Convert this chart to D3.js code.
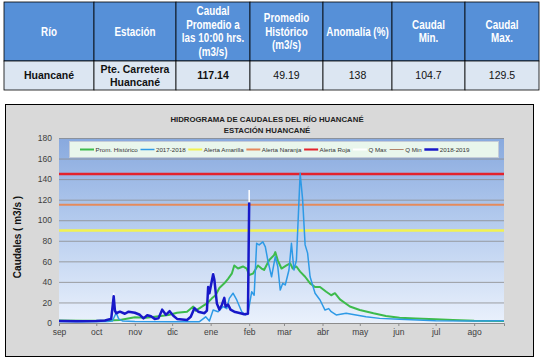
<!DOCTYPE html>
<html>
<head>
<meta charset="utf-8">
<script src="https://cdn.jsdelivr.net/npm/d3@7"></script>
<style>
  body { margin: 0; background: #fff; }
  svg { display: block; }
</style>
</head>
<body>
<script>
// table
var headers = [["Río"], ["Estación"], ["Caudal", "Promedio a", "las 10:00 hrs.", "(m3/s)"],
  ["Promedio", "Histórico", "(m3/s)"], ["Anomalía (%)"], ["Caudal", "Min."], ["Caudal", "Max."]];
var rowValues = [["Huancané"], ["Pte. Carretera", "Huancané"], ["117.14"], ["49.19"], ["138"], ["104.7"], ["129.5"]];
var boldCells = [true, true, true, false, false, false, false];

// chart
var chartTitle = ["HIDROGRAMA DE CAUDALES DEL RÍO HUANCANÉ", "ESTACIÓN HUANCANÉ"];
var yTitle = "Caudales ( m3/s )";
var monthLabels = ["sep", "oct", "nov", "dic", "ene", "feb", "mar", "abr", "may", "jun", "jul", "ago"];
var yTicks = [0, 20, 40, 60, 80, 100, 120, 140, 160, 180];

var histData = [
  ["2018-09-01", 2.5], ["2018-09-20", 2.3], ["2018-10-10", 2.5], ["2018-10-20", 3], ["2018-11-01", 5.5],
  ["2018-11-10", 5], ["2018-11-17", 6], ["2018-11-28", 7.8], ["2018-12-05", 10], ["2018-12-13", 11],
  ["2018-12-18", 16], ["2018-12-20", 12], ["2018-12-25", 16], ["2018-12-29", 19], ["2019-01-02", 24],
  ["2019-01-05", 27], ["2019-01-08", 34], ["2019-01-12", 38.6], ["2019-01-15", 43], ["2019-01-18", 48],
  ["2019-01-20", 56], ["2019-01-23", 53], ["2019-01-27", 55], ["2019-01-30", 53], ["2019-02-01", 46.7],
  ["2019-02-04", 48], ["2019-02-08", 56], ["2019-02-11", 53], ["2019-02-13", 51.6], ["2019-02-17", 61],
  ["2019-02-21", 66], ["2019-02-22", 69], ["2019-02-24", 61], ["2019-02-27", 53], ["2019-03-03", 56],
  ["2019-03-06", 58], ["2019-03-08", 53], ["2019-03-11", 55], ["2019-03-14", 50], ["2019-03-18", 45],
  ["2019-03-22", 38.6], ["2019-03-26", 35], ["2019-03-30", 35], ["2019-04-04", 30.4], ["2019-04-08", 27],
  ["2019-04-11", 29], ["2019-04-15", 23], ["2019-04-23", 16], ["2019-05-01", 12.6], ["2019-05-12", 9.4],
  ["2019-05-22", 6.8], ["2019-06-02", 5], ["2019-06-15", 4.3], ["2019-07-01", 3.6], ["2019-07-15", 3],
  ["2019-08-01", 2.3], ["2019-08-25", 2]
];

var data1718 = [
  ["2018-09-01", 1.5], ["2018-09-20", 1.3], ["2018-10-10", 1.5], ["2018-10-14", 2], ["2018-10-17", 10],
  ["2018-10-19", 4], ["2018-10-22", 2], ["2018-11-01", 1.5], ["2018-12-01", 1.2], ["2018-12-23", 1.3],
  ["2018-12-28", 6], ["2018-12-31", 2], ["2019-01-03", 12.6], ["2019-01-07", 11], ["2019-01-11", 16],
  ["2019-01-14", 14], ["2019-01-16", 24], ["2019-01-19", 29], ["2019-01-22", 22.4], ["2019-01-26", 11],
  ["2019-01-29", 7.8], ["2019-01-31", 9.4], ["2019-02-03", 30.4], ["2019-02-05", 27], ["2019-02-07", 77.5],
  ["2019-02-09", 76], ["2019-02-12", 79], ["2019-02-14", 74], ["2019-02-16", 61], ["2019-02-19", 45],
  ["2019-02-21", 58], ["2019-02-22", 64.5], ["2019-02-24", 55], ["2019-02-26", 32], ["2019-02-28", 38.6],
  ["2019-03-02", 37], ["2019-03-03", 41.8], ["2019-03-05", 51.6], ["2019-03-07", 77.5], ["2019-03-09", 51.6],
  ["2019-03-11", 61], ["2019-03-14", 145.6], ["2019-03-16", 120], ["2019-03-18", 76], ["2019-03-20", 68],
  ["2019-03-22", 45], ["2019-03-26", 29], ["2019-03-30", 22.4], ["2019-04-03", 12.6], ["2019-04-06", 14],
  ["2019-04-08", 11], ["2019-04-12", 7.8], ["2019-04-20", 9.4], ["2019-04-28", 7.8], ["2019-05-06", 6.1],
  ["2019-05-17", 4.5], ["2019-06-02", 3.6], ["2019-07-01", 2.2], ["2019-08-01", 2], ["2019-08-25", 2.2]
];

var data1819 = [
  ["2018-09-01", 2], ["2018-09-15", 1.8], ["2018-10-01", 2], ["2018-10-08", 2.5], ["2018-10-11", 3.5],
  ["2018-10-13", 4], ["2018-10-15", 26], ["2018-10-16", 12], ["2018-10-17", 9.5], ["2018-10-20", 11],
  ["2018-10-24", 9], ["2018-10-27", 11], ["2018-11-01", 10], ["2018-11-05", 8], ["2018-11-08", 4.5],
  ["2018-11-11", 7.5], ["2018-11-14", 6.5], ["2018-11-17", 4], ["2018-11-20", 4.5], ["2018-11-23", 13],
  ["2018-11-26", 8], ["2018-11-29", 11.5], ["2018-12-02", 7], ["2018-12-05", 4], ["2018-12-13", 3],
  ["2018-12-16", 6], ["2018-12-19", 14.5], ["2018-12-22", 11], ["2018-12-27", 9.5], ["2018-12-29", 12],
  ["2018-12-30", 35], ["2018-12-31", 29], ["2019-01-03", 47.5], ["2019-01-04", 42], ["2019-01-06", 19],
  ["2019-01-08", 13], ["2019-01-10", 17.5], ["2019-01-12", 24.5], ["2019-01-13", 16], ["2019-01-15", 18],
  ["2019-01-17", 13], ["2019-01-20", 11], ["2019-01-25", 9.5], ["2019-01-28", 8.5], ["2019-01-31", 9],
  ["2019-02-01", 117.14]
];

var alertLevels = [["Alerta Amarilla", 90, "#F2F250"], ["Alerta Naranja", 115, "#E58A5C"], ["Alerta Roja", 145, "#E3232C"]];
var qMax = [["2018-10-15", 26, 29.5], ["2019-01-03", 47.5, 50], ["2019-02-01", 117.14, 129.5]];
var qMin = [["2018-10-15", 24, 26], ["2019-01-03", 45, 47.5], ["2019-02-01", 104.7, 117.14]];

var legendItems = [
  ["Prom. Histórico", "#3DBB4C", 2],
  ["2017-2018", "#2E9AE6", 1.5],
  ["Alerta Amarilla", "#F2F250", 2],
  ["Alerta Naranja", "#E58A5C", 2],
  ["Alerta Roja", "#E3232C", 2],
  ["Q Max", "#FFFFFF", 2],
  ["Q Min", "#B0846A", 1],
  ["2018-2019", "#1818C8", 2.5]
];

var W = 543, H = 363;
var parse = d3.utcParse("%Y-%m-%d");

var svg = d3.select("body").append("svg")
  .attr("width", W)
  .attr("height", H)
  .style("font-family", "'Liberation Sans', Arial, sans-serif");

// ---------- table ----------
var colEdges = [4, 94, 176, 250, 323, 392, 465, 539];
var headTop = 2, headBottom = 61, rowBottom = 90;

var table = svg.append("g");

table.selectAll("rect.head")
  .data(headers)
  .join("rect")
  .attr("x", function(d, i) { return colEdges[i]; })
  .attr("y", headTop)
  .attr("width", function(d, i) { return colEdges[i + 1] - colEdges[i]; })
  .attr("height", headBottom - headTop)
  .attr("fill", "#5690D8")
  .attr("stroke", "#000")
  .attr("stroke-width", 0.8);

table.selectAll("rect.cell")
  .data(rowValues)
  .join("rect")
  .attr("x", function(d, i) { return colEdges[i]; })
  .attr("y", headBottom)
  .attr("width", function(d, i) { return colEdges[i + 1] - colEdges[i]; })
  .attr("height", rowBottom - headBottom)
  .attr("fill", "#DCE6F2")
  .attr("stroke", "#000")
  .attr("stroke-width", 0.8);

// squeeze is used to fake the narrow header font
var drawCellText = function(lines, i, cy, lineH, opts) {
  var cx = (colEdges[i] + colEdges[i + 1]) / 2;
  var t = table.append("text")
    .attr("transform", "translate(" + cx + ",0) scale(" + opts.squeeze + ",1)")
    .attr("text-anchor", "middle")
    .attr("font-size", opts.size)
    .attr("font-weight", opts.bold ? "bold" : "normal")
    .attr("fill", opts.color);
  lines.forEach(function(l, k) {
    t.append("tspan")
      .attr("x", 0)
      .attr("y", cy + (k - (lines.length - 1) / 2) * lineH + opts.size * 0.35)
      .text(l);
  });
};

headers.forEach(function(h, i) {
  drawCellText(h, i, (headTop + headBottom) / 2, 13.5, {size: 12, bold: true, color: "#fff", squeeze: 0.82});
});
rowValues.forEach(function(r, i) {
  drawCellText(r, i, (headBottom + rowBottom) / 2, 13, {size: 10.5, bold: boldCells[i], color: "#111", squeeze: 1});
});

// ---------- chart panel ----------
svg.append("rect")
  .attr("x", 5.5).attr("y", 104.5)
  .attr("width", 528).attr("height", 252)
  .attr("fill", "#D9D9D9")
  .attr("stroke", "#000")
  .attr("stroke-width", 1);

var plot = {left: 59, right: 504, top: 138, bottom: 323};

var x = d3.scaleUtc()
  .domain([parse("2018-09-01"), parse("2019-08-25")])
  .range([plot.left, plot.right]);
var y = d3.scaleLinear()
  .domain([0, 180])
  .range([plot.bottom, plot.top]);

var defs = svg.append("defs");
var grad = defs.append("linearGradient")
  .attr("id", "bg").attr("x1", 0).attr("y1", 0).attr("x2", 0).attr("y2", 1);
grad.append("stop").attr("offset", "0%").attr("stop-color", "#88A9DE");
grad.append("stop").attr("offset", "45%").attr("stop-color", "#B4CBEE");
grad.append("stop").attr("offset", "100%").attr("stop-color", "#EAF1FC");

svg.append("rect")
  .attr("x", plot.left).attr("y", plot.top)
  .attr("width", plot.right - plot.left).attr("height", plot.bottom - plot.top)
  .attr("fill", "url(#bg)");

// gridlines
svg.append("g")
  .selectAll("line")
  .data(yTicks.slice(1))
  .join("line")
  .attr("x1", plot.left).attr("x2", plot.right)
  .attr("y1", function(d) { return y(d) + 0.5; })
  .attr("y2", function(d) { return y(d) + 0.5; })
  .attr("stroke", "#8C8C8C")
  .attr("stroke-width", 0.8);

// y axis
var yAxis = svg.append("g")
  .attr("transform", "translate(" + plot.left + ",0)")
  .call(d3.axisLeft(y).tickValues(yTicks).tickSize(0).tickPadding(7));
yAxis.select(".domain").remove();
yAxis.selectAll("text").attr("font-size", 8.5).attr("fill", "#404040")
  .attr("font-family", "'Liberation Sans', Arial, sans-serif");

// x axis
var xAxis = svg.append("g")
  .attr("transform", "translate(0," + plot.bottom + ")")
  .call(d3.axisBottom(x)
    .ticks(d3.utcMonth.every(1))
    .tickSize(3)
    .tickPadding(3)
    .tickFormat(function(d) { return monthLabels[(d.getUTCMonth() + 4) % 12]; }));
xAxis.select(".domain").attr("stroke", "#8C8C8C");
xAxis.selectAll(".tick line").attr("stroke", "#8C8C8C");
xAxis.selectAll("text").attr("font-size", 8.5).attr("fill", "#404040")
  .attr("font-family", "'Liberation Sans', Arial, sans-serif");

// alert lines
svg.append("g")
  .selectAll("line")
  .data(alertLevels)
  .join("line")
  .attr("x1", plot.left).attr("x2", plot.right)
  .attr("y1", function(d) { return y(d[1]); })
  .attr("y2", function(d) { return y(d[1]); })
  .attr("stroke", function(d) { return d[2]; })
  .attr("stroke-width", function(d) { return d[1] === 115 ? 2 : 2.5; });

var line = d3.line()
  .x(function(d) { return x(parse(d[0])); })
  .y(function(d) { return y(d[1]); });

svg.append("path")
  .datum(histData)
  .attr("d", line)
  .attr("fill", "none")
  .attr("stroke", "#3DBB4C")
  .attr("stroke-width", 2)
  .attr("stroke-linejoin", "round");

svg.append("path")
  .datum(data1718)
  .attr("d", line)
  .attr("fill", "none")
  .attr("stroke", "#2E9AE6")
  .attr("stroke-width", 1.5)
  .attr("stroke-linejoin", "round");

// Q max / Q min
svg.append("g")
  .selectAll("line")
  .data(qMax)
  .join("line")
  .attr("x1", function(d) { return x(parse(d[0])); })
  .attr("x2", function(d) { return x(parse(d[0])); })
  .attr("y1", function(d) { return y(d[1]); })
  .attr("y2", function(d) { return y(d[2]); })
  .attr("stroke", "#fff")
  .attr("stroke-width", 1.5);

svg.append("g")
  .selectAll("line")
  .data(qMin)
  .join("line")
  .attr("x1", function(d) { return x(parse(d[0])); })
  .attr("x2", function(d) { return x(parse(d[0])); })
  .attr("y1", function(d) { return y(d[1]); })
  .attr("y2", function(d) { return y(d[2]); })
  .attr("stroke", "#B0846A")
  .attr("stroke-width", 1);

svg.append("path")
  .datum(data1819)
  .attr("d", line)
  .attr("fill", "none")
  .attr("stroke", "#1818C8")
  .attr("stroke-width", 2.5)
  .attr("stroke-linejoin", "round");

// legend
var legend = svg.append("g");
legend.append("rect")
  .attr("x", 69.5).attr("y", 141.5)
  .attr("width", 429).attr("height", 16)
  .attr("fill", "#E9F6EC")
  .attr("stroke", "#C4CCD8");

var symW = 14;
var items = legend.selectAll("g.item")
  .data(legendItems)
  .join("g")
  .attr("class", "item");
items.append("line")
  .attr("x1", 0).attr("x2", symW)
  .attr("y1", 0).attr("y2", 0)
  .attr("stroke", function(d) { return d[1]; })
  .attr("stroke-width", function(d) { return d[2]; });
items.append("text")
  .attr("x", symW + 1.5)
  .attr("y", 2.2)
  .attr("font-size", 6.2)
  .attr("fill", "#333")
  .text(function(d) { return d[0]; });

var widths = [];
items.each(function() { widths.push(this.getBBox().width); });
var legStart = 80, legEnd = 470;
var gap = (legEnd - legStart - d3.sum(widths)) / (legendItems.length - 1);
var cursor = legStart;
items.attr("transform", function(d, i) {
  var t = "translate(" + cursor + ",149.5)";
  cursor += widths[i] + gap;
  return t;
});

// titles
svg.append("g")
  .selectAll("text")
  .data(chartTitle)
  .join("text")
  .attr("x", 267)
  .attr("y", function(d, i) { return 122 + i * 10.5; })
  .attr("text-anchor", "middle")
  .attr("font-size", 7.8)
  .attr("font-weight", "bold")
  .attr("fill", "#222")
  .text(function(d) { return d; });

svg.append("text")
  .attr("transform", "translate(21,237) rotate(-90)")
  .attr("text-anchor", "middle")
  .attr("font-size", 10)
  .attr("font-weight", "bold")
  .attr("fill", "#111")
  .text(yTitle);
</script>
</body>
</html>
